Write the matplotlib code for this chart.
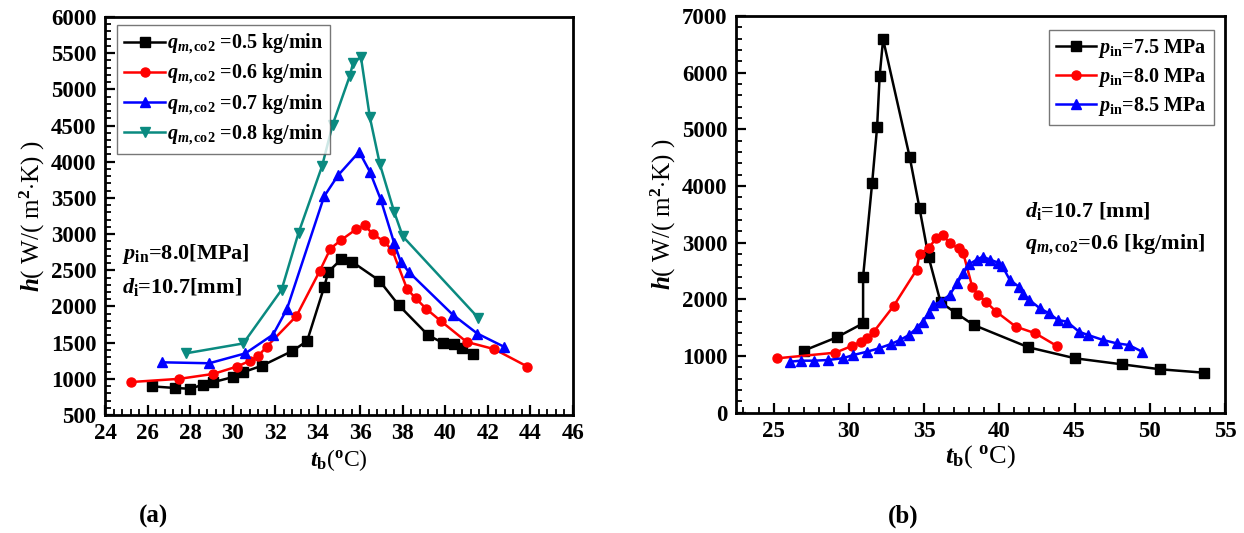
import numpy as np
import matplotlib
matplotlib.use('Agg')
from matplotlib import pyplot as plt
from matplotlib.ticker import MultipleLocator

plt.rcParams['font.family'] = ['Liberation Serif', 'DejaVu Serif']
plt.rcParams['font.weight'] = 'bold'
plt.rcParams['mathtext.fontset'] = 'custom'
plt.rcParams['mathtext.rm'] = 'Liberation Serif:bold'
plt.rcParams['mathtext.it'] = 'Liberation Serif:bold:italic'
plt.rcParams['mathtext.bf'] = 'Liberation Serif:bold'

# ---- panel (a): different mass flow rates, p_in = 8.0 MPa ----
t_05 = [26.2, 27.3, 28.0, 28.6, 29.1, 30.0, 30.5, 31.4, 32.8, 33.5, 34.3, 34.5,
        35.1, 35.6, 36.9, 37.8, 39.2, 39.9, 40.4, 40.8, 41.3]
h_05 = [896, 873, 863, 918, 955, 1023, 1092, 1183, 1384, 1521, 2266, 2480,
        2650, 2620, 2357, 2020, 1600, 1495, 1475, 1430, 1340]

t_06 = [25.2, 27.5, 29.1, 30.2, 30.8, 31.2, 31.6, 33.0, 34.1, 34.6, 35.1, 35.8,
        36.2, 36.6, 37.1, 37.5, 38.2, 38.6, 39.1, 39.8, 41.0, 42.3, 43.85]
h_06 = [955, 1000, 1068, 1169, 1247, 1315, 1444, 1868, 2493, 2800, 2918, 3065,
        3120, 3000, 2900, 2780, 2242, 2114, 1968, 1795, 1510, 1410, 1170]

t_07 = [26.7, 28.9, 30.6, 31.9, 32.55, 34.3, 34.95, 35.95, 36.45, 36.96, 37.6,
        37.9, 38.3, 40.35, 41.5, 42.75]
h_07 = [1228, 1215, 1352, 1611, 1962, 3520, 3810, 4137, 3863, 3480, 2870,
        2620, 2471, 1886, 1626, 1444]

t_08 = [27.8, 30.5, 32.3, 33.1, 34.2, 34.7, 35.5, 35.66, 36.03, 36.45, 36.92,
        37.6, 38.0, 41.55]
h_08 = [1352, 1489, 2229, 3019, 3935, 4510, 5180, 5360, 5450, 4616, 3968,
        3301, 2968, 1841]

# ---- panel (b): different inlet pressures, q = 0.6 kg/min ----
t_75 = [27.0, 29.2, 30.95, 30.95, 31.55, 31.88, 32.05, 32.28, 34.05, 34.7,
        35.3, 36.1, 37.14, 38.3, 41.94, 45.04, 48.14, 50.7, 53.6]
h_75 = [1094, 1330, 1577, 2400, 4050, 5036, 5941, 6589, 4507, 3607,
        2750, 1950, 1754, 1548, 1154, 960, 854, 766, 706]

t_80 = [25.25, 29.1, 30.2, 30.8, 31.2, 31.66, 32.98, 34.5, 34.7, 35.3, 35.8,
        36.26, 36.7, 37.3, 37.6, 38.2, 38.6, 39.1, 39.8, 41.1, 42.4, 43.83]
h_80 = [960, 1059, 1177, 1253, 1313, 1429, 1883, 2518, 2800, 2901, 3077,
        3136, 2989, 2901, 2820, 2224, 2077, 1959, 1782, 1518, 1401, 1177]

t_85 = [26.1, 26.8, 27.7, 28.6, 29.6, 30.3, 31.2, 32.0, 32.8, 33.4, 34.0, 34.5,
        34.9, 35.3, 35.6, 36.1, 36.7, 37.2, 37.6, 38.0, 38.5, 38.9, 39.4, 39.9,
        40.2, 40.7, 41.3, 41.6, 42.0, 42.7, 43.3, 43.9, 44.5, 45.3, 45.9, 46.9,
        47.8, 48.6, 49.5]
h_85 = [900, 918, 918, 930, 960, 1018, 1076, 1136, 1212, 1283, 1371, 1489,
        1606, 1754, 1900, 1959, 2077, 2283, 2460, 2620, 2700, 2753, 2700, 2650,
        2589, 2342, 2224, 2100, 1989, 1842, 1754, 1636, 1606, 1429, 1371, 1283,
        1224, 1195, 1076]

TEAL = '#0a8a80'

def style_axes(ax):
    for s in ax.spines.values():
        s.set_linewidth(2.0)
    ax.tick_params(which='both', direction='in', top=False, right=False,
                   labelsize=16.5, width=1.6, pad=6)
    ax.tick_params(which='major', length=7)
    ax.tick_params(which='minor', length=4, width=1.3)
    for lab in ax.get_xticklabels() + ax.get_yticklabels():
        lab.set_fontweight('bold')

fig = plt.figure(figsize=(12.44, 5.33), dpi=100)
ax1 = fig.add_axes([0.0844, 0.2214, 0.3762, 0.7467])
ax2 = fig.add_axes([0.5916, 0.2257, 0.3931, 0.7443])

kw = dict(lw=1.8, ms=6.5)
ax1.plot(t_05, h_05, '-s', color='black', label=r'$q_{m,\mathrm{co2}}$ =0.5 kg/min', **kw)
ax1.plot(t_06, h_06, '-o', color='red', label=r'$q_{m,\mathrm{co2}}$ =0.6 kg/min', **kw)
ax1.plot(t_07, h_07, '-^', color='blue', label=r'$q_{m,\mathrm{co2}}$ =0.7 kg/min', **kw)
ax1.plot(t_08, h_08, '-v', color=TEAL, label=r'$q_{m,\mathrm{co2}}$ =0.8 kg/min', **kw)
ax1.set_xlim(24, 46)
ax1.set_ylim(500, 6000)
ax1.xaxis.set_major_locator(MultipleLocator(2))
ax1.xaxis.set_minor_locator(MultipleLocator(0.4))
ax1.yaxis.set_major_locator(MultipleLocator(500))
ax1.yaxis.set_minor_locator(MultipleLocator(100))
style_axes(ax1)
leg1 = ax1.legend(loc='upper left', bbox_to_anchor=(0.018, 0.99), fontsize=14.5,
                  fancybox=False, edgecolor='#555555', handlelength=2.0,
                  handletextpad=0.1, borderpad=0.35, labelspacing=0.3,
                  borderaxespad=0.2)
leg1.get_frame().set_linewidth(1.0)
ax1.text(24.8, 2660, r'$p_{\mathrm{in}}$=8.0[MPa]', fontsize=16)
ax1.text(24.8, 2180, r'$d_{\mathrm{i}}$=10.7[mm]', fontsize=16)
ax1.set_xlabel(r'$t_{\mathrm{b}}$($^{\mathrm{o}}$C)', fontsize=17, labelpad=2)
ax1.set_ylabel(r'$h$( W/( m$^{2}$$\cdot$K) )', fontsize=18, labelpad=3)

ax2.plot(t_75, h_75, '-s', color='black', label=r'$p_{\mathrm{in}}$=7.5 MPa', **kw)
ax2.plot(t_80, h_80, '-o', color='red', label=r'$p_{\mathrm{in}}$=8.0 MPa', **kw)
ax2.plot(t_85, h_85, '-^', color='blue', label=r'$p_{\mathrm{in}}$=8.5 MPa', **kw)
ax2.set_xlim(22.5, 55)
ax2.set_ylim(0, 7000)
ax2.xaxis.set_major_locator(MultipleLocator(5))
ax2.xaxis.set_minor_locator(MultipleLocator(1))
ax2.yaxis.set_major_locator(MultipleLocator(1000))
ax2.yaxis.set_minor_locator(MultipleLocator(200))
ax2.set_xticks([25, 30, 35, 40, 45, 50, 55])
style_axes(ax2)
leg2 = ax2.legend(loc='upper right', bbox_to_anchor=(0.985, 0.975), fontsize=14.5,
                  fancybox=False, edgecolor='#555555', handlelength=2.0,
                  handletextpad=0.1, borderpad=0.35, labelspacing=0.3,
                  borderaxespad=0.2)
leg2.get_frame().set_linewidth(1.0)
ax2.text(41.7, 3450, r'$d_{\mathrm{i}}$=10.7 [mm]', fontsize=16)
ax2.text(41.7, 2890, r'$q_{m,\mathrm{co2}}$=0.6 [kg/min]', fontsize=16)
ax2.set_xlabel(r'$t_{\mathrm{b}}$( $^{\mathrm{o}}$C)', fontsize=19, labelpad=1)
ax2.set_ylabel(r'$h$( W/( m$^{2}$$\cdot$K) )', fontsize=18, labelpad=3)

fig.text(0.123, 0.02, '(a)', fontsize=18, fontweight='bold', ha='center')
fig.text(0.726, 0.02, '(b)', fontsize=18, fontweight='bold', ha='center')

fig.savefig('out.png', dpi=100)
